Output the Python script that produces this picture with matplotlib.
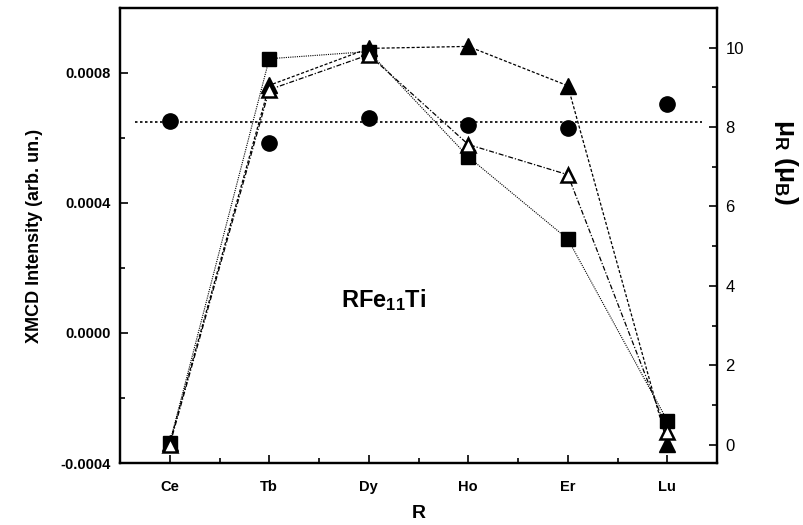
import matplotlib
matplotlib.use('Agg')
import matplotlib.pyplot as plt
from matplotlib.ticker import MultipleLocator, FixedLocator
import numpy as np

# data
R = ['Ce', 'Tb', 'Dy', 'Ho', 'Er', 'Lu']
xmcd = [0.000651, 0.000585, 0.000660, 0.000639, 0.000630, 0.000704]
xmcd_mean = 0.00065
mu_square = [0.05, 9.72, 9.90, 7.25, 5.18, 0.61]
mu_open = [0.00, 8.94, 9.82, 7.56, 6.80, 0.33]
mu_full = [0.05, 9.05, 9.98, 10.03, 9.04, 0.03]

plt.rcParams['font.family'] = ['Liberation Sans', 'DejaVu Sans']
plt.rcParams['mathtext.fontset'] = 'custom'
plt.rcParams['mathtext.rm'] = 'Liberation Sans'
plt.rcParams['mathtext.bf'] = 'Liberation Sans:bold'
plt.rcParams['mathtext.it'] = 'Liberation Sans:italic'

fig = plt.figure(figsize=(8.04, 5.25), dpi=100)
ax = fig.add_axes([0.1493, 0.118, 0.7425, 0.867])
ax2 = ax.twinx()

x = np.arange(len(R))

# left axis: XMCD intensity
ax.plot(x, xmcd, 'o', color='black', ms=11, zorder=3)
ax.plot([-0.35, 5.35], [xmcd_mean, xmcd_mean], color='black', lw=1.2,
        ls=(0, (1.5, 1.5)))
ax.set_ylim(-0.0004, 0.001)
ax.set_xlim(-0.5, 5.5)
ax.yaxis.set_major_locator(FixedLocator([-0.0004, 0.0, 0.0004, 0.0008]))
ax.yaxis.set_minor_locator(MultipleLocator(0.0002))
ax.set_yticklabels(['-0.0004', '0.0000', '0.0004', '0.0008'],
                   fontweight='bold', fontsize=10.5)
ax.set_xticks(x)
ax.set_xticklabels(R, fontweight='bold', fontsize=10.5)
ax.xaxis.set_minor_locator(MultipleLocator(0.5))
ax.set_xlabel('R', fontweight='bold', fontsize=14, labelpad=8)
ax.set_ylabel('XMCD Intensity (arb. un.)', fontweight='bold', fontsize=13,
              labelpad=12)

# right axis: mu_R
ax2.plot(x, mu_square, 's', color='black', ms=10.5, ls=(0, (1, 1)), lw=0.8)
ax2.plot(x, mu_full, '^', color='black', ms=11, ls=(0, (2.5, 1.5)), lw=0.9)
ax2.plot(x, mu_open, '^', color='black', mfc='white', mew=1.8, ms=10,
         ls=(0, (4, 1.5, 1, 1.5)), lw=0.9)
ax2.set_ylim(-0.46, 11.0)
ax2.yaxis.set_major_locator(MultipleLocator(2))
ax2.yaxis.set_minor_locator(MultipleLocator(1))
ax2.tick_params(axis='y', labelsize=12)
ax2.set_ylabel(r'μ$_\mathbf{R}$ (μ$_\mathbf{B}$)', fontweight='bold',
               fontsize=19, rotation=270, va='center', ha='center')
ax2.yaxis.set_label_coords(1.116, 0.66)

ax.text(2.15, 0.0001, r'$\mathbf{RFe_{11}Ti}$', fontsize=17,
        ha='center', va='center')

for a in (ax, ax2):
    for s in a.spines.values():
        s.set_linewidth(1.6)
    a.tick_params(which='major', direction='in', length=6, width=1.2)
    a.tick_params(which='minor', direction='in', length=3.5, width=1.2)
ax.tick_params(axis='x', which='both', top=False, pad=12)
ax.tick_params(axis='y', which='both', right=False, pad=7)
ax2.tick_params(axis='y', which='both', left=False, pad=6)

fig.savefig('out.png', dpi=100)
